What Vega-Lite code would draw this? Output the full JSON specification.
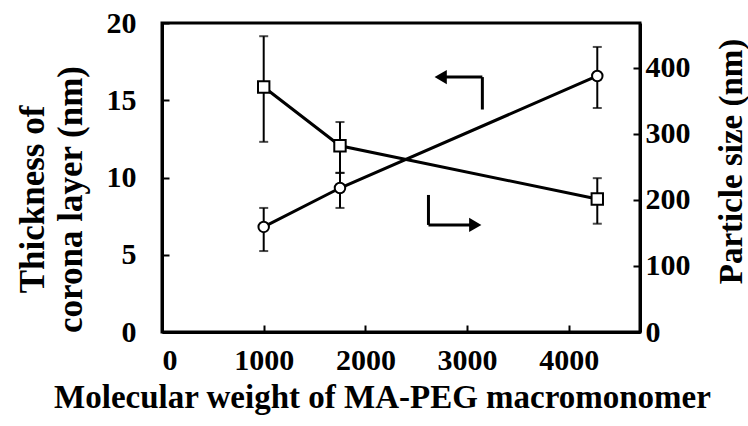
{
  "$schema": "https://vega.github.io/schema/vega-lite/v6.json",
  "width": 478,
  "height": 309,
  "autosize": {"type": "none"},
  "padding": {"left": 162, "top": 23, "right": 108, "bottom": 94},
  "background": "white",
  "config": {
    "font": "Liberation Serif",
    "view": {"stroke": "black", "strokeWidth": 3},
    "axis": {
      "grid": false,
      "zindex": 1,
      "domainColor": "black",
      "domainWidth": 3,
      "tickColor": "black",
      "tickWidth": 2,
      "tickSize": -7,
      "labelFont": "Liberation Serif",
      "labelFontWeight": "bold",
      "labelFontSize": 30,
      "labelColor": "black",
      "titleFont": "Liberation Serif",
      "titleFontWeight": "bold",
      "titleFontSize": 33,
      "titleColor": "black"
    }
  },
  "datasets": {
    "thickness": [
      {"mw": 1000, "t": 6.8, "lo": 5.24, "hi": 8.03},
      {"mw": 1750, "t": 9.32, "lo": 8.03, "hi": 10.3},
      {"mw": 4280, "t": 16.57, "lo": 14.5, "hi": 18.45}
    ],
    "size": [
      {"mw": 1000, "s": 371, "lo": 288, "hi": 448},
      {"mw": 1750, "s": 282, "lo": 241, "hi": 318},
      {"mw": 4280, "s": 201.5, "lo": 164, "hi": 233}
    ],
    "arrowLines": [
      {"xa": 3150, "ya": 14.4, "xb": 3150, "yb": 16.5},
      {"xa": 3150, "ya": 16.5, "xb": 2740, "yb": 16.5},
      {"xa": 2620, "ya": 8.87, "xb": 2620, "yb": 6.93},
      {"xa": 2620, "ya": 6.93, "xb": 3060, "yb": 6.93}
    ],
    "arrowHeads": [
      {"x": 2740, "y": 16.5, "dir": "left"},
      {"x": 3080, "y": 6.93, "dir": "right"}
    ]
  },
  "layer": [
    {
      "layer": [
        {
          "data": {"name": "thickness"},
          "mark": {"type": "line", "color": "black", "strokeWidth": 3},
          "encoding": {
            "x": {
              "field": "mw", "type": "quantitative",
              "scale": {"domain": [0, 4700], "nice": false},
              "axis": {
                "values": [0, 1000, 2000, 3000, 4000],
                "format": "d",
                "labelPadding": 20,
                "title": "Molecular weight of MA-PEG macromonomer",
                "titlePadding": 6,
                "titleX": 220
              }
            },
            "y": {
              "field": "t", "type": "quantitative",
              "scale": {"domain": [0, 20], "nice": false},
              "axis": {
                "orient": "left",
                "values": [0, 5, 10, 15, 20],
                "labelPadding": 33,
                "title": ["Thickness of", "corona layer (nm)"],
                "titleFontSize": 35,
                "titleLineHeight": 38,
                "titleBaseline": "middle",
                "titleX": -130,
                "titleY": 176
              }
            }
          }
        },
        {
          "data": {"name": "thickness"},
          "mark": {"type": "rule", "color": "black", "strokeWidth": 2},
          "encoding": {
            "x": {"field": "mw", "type": "quantitative"},
            "y": {"field": "lo", "type": "quantitative"},
            "y2": {"field": "hi"}
          }
        },
        {
          "data": {"name": "thickness"},
          "mark": {"type": "tick", "orient": "horizontal", "color": "black", "thickness": 2, "size": 9},
          "encoding": {
            "x": {"field": "mw", "type": "quantitative"},
            "y": {"field": "lo", "type": "quantitative"}
          }
        },
        {
          "data": {"name": "thickness"},
          "mark": {"type": "tick", "orient": "horizontal", "color": "black", "thickness": 2, "size": 9},
          "encoding": {
            "x": {"field": "mw", "type": "quantitative"},
            "y": {"field": "hi", "type": "quantitative"}
          }
        },
        {
          "data": {"name": "arrowLines"},
          "mark": {"type": "rule", "color": "black", "strokeWidth": 3},
          "encoding": {
            "x": {"field": "xa", "type": "quantitative"},
            "x2": {"field": "xb"},
            "y": {"field": "ya", "type": "quantitative"},
            "y2": {"field": "yb"}
          }
        },
        {
          "data": {"name": "arrowHeads"},
          "transform": [{"filter": "datum.dir === 'left'"}],
          "mark": {"type": "point", "shape": "triangle-left", "filled": true, "color": "black", "size": 200, "opacity": 1},
          "encoding": {
            "x": {"field": "x", "type": "quantitative"},
            "y": {"field": "y", "type": "quantitative"}
          }
        },
        {
          "data": {"name": "arrowHeads"},
          "transform": [{"filter": "datum.dir === 'right'"}],
          "mark": {"type": "point", "shape": "triangle-right", "filled": true, "color": "black", "size": 200, "opacity": 1},
          "encoding": {
            "x": {"field": "x", "type": "quantitative"},
            "y": {"field": "y", "type": "quantitative"}
          }
        },
        {
          "data": {"name": "thickness"},
          "mark": {"type": "point", "shape": "circle", "filled": true, "fill": "white", "stroke": "black", "strokeWidth": 2, "size": 110, "opacity": 1},
          "encoding": {
            "x": {"field": "mw", "type": "quantitative"},
            "y": {"field": "t", "type": "quantitative"}
          }
        }
      ]
    },
    {
      "layer": [
        {
          "data": {"name": "size"},
          "mark": {"type": "line", "color": "black", "strokeWidth": 3},
          "encoding": {
            "x": {"field": "mw", "type": "quantitative"},
            "y": {
              "field": "s", "type": "quantitative",
              "scale": {"domain": [0, 468], "nice": false},
              "axis": {
                "orient": "right",
                "values": [0, 100, 200, 300, 400],
                "labelPadding": 12,
                "title": "Particle size (nm)",
                "titleAngle": 270,
                "titleBaseline": "middle",
                "titleX": 91,
                "titleY": 138
              }
            }
          }
        },
        {
          "data": {"name": "size"},
          "mark": {"type": "rule", "color": "black", "strokeWidth": 2},
          "encoding": {
            "x": {"field": "mw", "type": "quantitative"},
            "y": {"field": "lo", "type": "quantitative"},
            "y2": {"field": "hi"}
          }
        },
        {
          "data": {"name": "size"},
          "mark": {"type": "tick", "orient": "horizontal", "color": "black", "thickness": 2, "size": 9},
          "encoding": {
            "x": {"field": "mw", "type": "quantitative"},
            "y": {"field": "lo", "type": "quantitative"}
          }
        },
        {
          "data": {"name": "size"},
          "mark": {"type": "tick", "orient": "horizontal", "color": "black", "thickness": 2, "size": 9},
          "encoding": {
            "x": {"field": "mw", "type": "quantitative"},
            "y": {"field": "hi", "type": "quantitative"}
          }
        },
        {
          "data": {"name": "size"},
          "mark": {"type": "point", "shape": "square", "filled": true, "fill": "white", "stroke": "black", "strokeWidth": 2, "size": 130, "opacity": 1},
          "encoding": {
            "x": {"field": "mw", "type": "quantitative"},
            "y": {"field": "s", "type": "quantitative"}
          }
        }
      ]
    }
  ],
  "resolve": {"scale": {"y": "independent"}}
}
